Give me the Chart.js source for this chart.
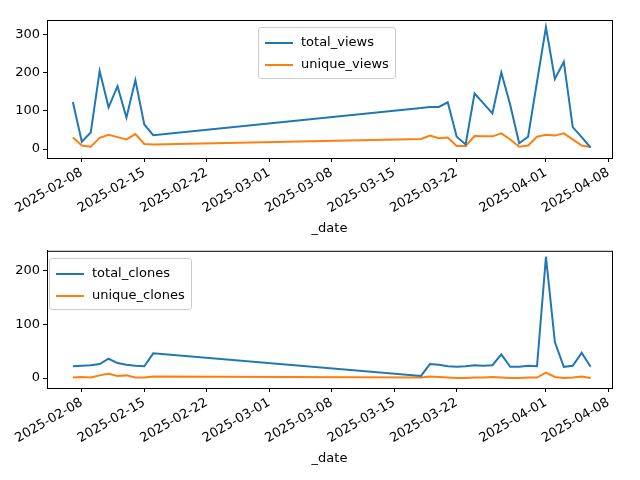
<!DOCTYPE html>
<html><head><meta charset="utf-8">
<script src="https://cdn.jsdelivr.net/npm/chart.js@4"></script>
<style>
body{margin:0;background:#fff;width:640px;height:480px;position:relative;overflow:hidden;font-family:"DejaVu Sans",sans-serif}
canvas{position:absolute;left:0}
.leg{position:absolute;background:rgba(255,255,255,.8);border:1px solid #ccc;border-radius:3px;font-size:13px;padding:3px 6px;line-height:22px}
.leg i{display:inline-block;width:28px;height:2px;vertical-align:middle;margin-right:8px}
</style></head><body>
<canvas id="c1" style="top:0" width="640" height="240"></canvas>
<canvas id="c2" style="top:240px" width="640" height="230"></canvas>
<div class="leg" style="left:258px;top:27px"><div><i style="background:#1f77b4"></i>total_views</div><div><i style="background:#ff7f0e"></i>unique_views</div></div>
<div class="leg" style="left:49px;top:258px"><div><i style="background:#1f77b4"></i>total_clones</div><div><i style="background:#ff7f0e"></i>unique_clones</div></div>
<script>
// dates (both panels share the same dates)
const dates = ['2025-02-07','2025-02-08','2025-02-09','2025-02-10','2025-02-11','2025-02-12','2025-02-13','2025-02-14','2025-02-15','2025-02-16',
  '2025-03-18','2025-03-19','2025-03-20','2025-03-21','2025-03-22','2025-03-23','2025-03-24','2025-03-25','2025-03-26','2025-03-27',
  '2025-03-28','2025-03-29','2025-03-30','2025-03-31','2025-04-01','2025-04-02','2025-04-03','2025-04-04','2025-04-05','2025-04-06'];
const totalViews   = [123,19,43,204,109,164,82,180,64,36, 107,110,110,122,32,12,145,119,93,200, 115,15,32,176,318,183,228,57,31,4];
const uniqueViews  = [30,9,6,29,37,31,25,39,13,12, 26,35,28,30,8,8,34,33,33,41, 25,6,9,32,37,35,41,25,9,5];
const totalClones  = [22,23,24,26,36,28,25,23,22,46, 4,26,25,22,21,22,24,23,24,44, 21,21,23,22,226,67,21,23,47,21];
const uniqueClones = [1,2,1,5,8,4,5,1,1,3, 1,3,2,1,0,0,1,1,2,1, 0,0,1,1,10,2,0,1,3,0];
const tickDates = ['2025-02-08','2025-02-15','2025-02-22','2025-03-01','2025-03-08','2025-03-15','2025-03-22','2025-04-01','2025-04-08'];
const topTicks = [0,100,200,300];
const botTicks = [0,100,200];

const base = Date.UTC(2025,1,8);
const day = s => (Date.UTC(+s.slice(0,4), +s.slice(5,7)-1, +s.slice(8,10)) - base) / 86400000;
const pts = vals => vals.map((v,i) => ({x: day(dates[i]), y: v}));
const lbl = {}; tickDates.forEach(s => lbl[day(s)] = s);

const frame = {id:'frame', afterDraw(c){const a=c.chartArea,g=c.ctx;g.save();g.strokeStyle='#000';g.lineWidth=1;g.strokeRect(a.left+.5,a.top+.5,a.right-a.left,a.bottom-a.top);g.restore();}};
const font = {family:'DejaVu Sans', size:13};

function make(id, names, series, ymin, ymax, yt, padTop) {
  new Chart(document.getElementById(id), {
    type:'line',
    data:{datasets:[
      {label:names[0], data:pts(series[0]), borderColor:'#1f77b4', borderWidth:2, pointRadius:0, tension:0},
      {label:names[1], data:pts(series[1]), borderColor:'#ff7f0e', borderWidth:2, pointRadius:0, tension:0}]},
    options:{responsive:false, animation:false,
      layout:{padding:{top:padTop, right:28, left:0, bottom:0}},
      plugins:{legend:{display:false}, tooltip:{enabled:false}},
      scales:{
        x:{type:'linear', min:-3.9, max:59.4,
          afterBuildTicks(s){ s.ticks = tickDates.map(d => ({value: day(d)})); },
          afterFit(s){ s.height = 82; },
          ticks:{color:'#000', font, maxRotation:30, minRotation:30, autoSkip:false, callback:v => lbl[v] || ''},
          grid:{drawOnChartArea:false, tickLength:4, color:'#000'}, border:{color:'#000'},
          title:{display:true, text:'_date', color:'#000', font, padding:{top:0,bottom:4}}},
        y:{min:ymin, max:ymax,
          afterBuildTicks(s){ s.ticks = yt.map(v => ({value:v})); },
          afterFit(s){ s.width = 47; },
          ticks:{color:'#000', font},
          grid:{drawOnChartArea:false, tickLength:4, color:'#000'}, border:{color:'#000'}}
      }},
    plugins:[frame]
  });
}
make('c1', ['total_views','unique_views'], [totalViews, uniqueViews], -23.5, 337, topTicks, 20);
make('c2', ['total_clones','unique_clones'], [totalClones, uniqueClones], -18.5, 237, botTicks, 10);
</script></body></html>
